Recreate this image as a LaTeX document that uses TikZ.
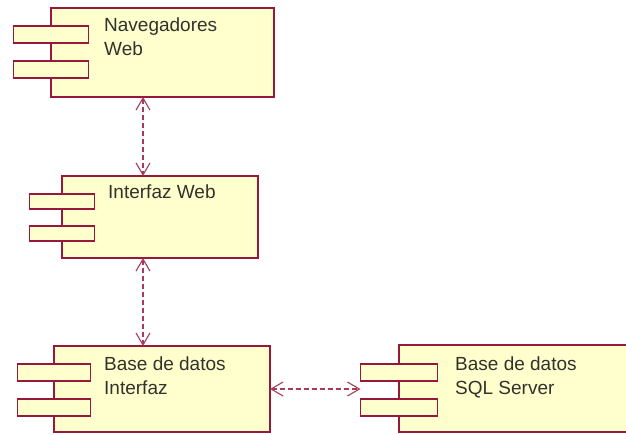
\documentclass[tikz,border=0pt]{standalone}
\usepackage{fontspec}
\setmainfont{Liberation Sans}
\usepackage{xcolor}
\usepackage{tikz}
\usetikzlibrary{arrows.meta, positioning, calc}
\definecolor{umlred}{RGB}{150,25,60}
\definecolor{umlfill}{RGB}{255,255,206}
\definecolor{umltext}{RGB}{50,50,45}

\begin{document}
\begin{tikzpicture}[
  x=1pt, y=-1pt,
  comp/.style={draw=umlred, fill=umlfill, line width=1.5pt, inner sep=0pt, outer sep=0pt},
  tab/.style={draw=umlred, fill=umlfill, line width=1.5pt, inner sep=0pt, outer sep=0pt,
    minimum width=75pt, minimum height=17pt},
  lbl/.style={inner sep=0pt, align=left, text=umltext, font=\fontsize{19}{24}\selectfont},
  dep/.style={umlred!85, line width=1.1pt, dash pattern=on 5pt off 3pt,
    {Straight Barb[length=12pt,width=14pt]}-{Straight Barb[length=12pt,width=14pt]}}
]
  \clip (0,0) rectangle (626,434);
  \fill[white] (0,0) rectangle (626,434);

  \node[comp, minimum width=223pt, minimum height=89pt] (nav) at (162.5,52.5) {};
  \node[comp, minimum width=196pt, minimum height=82pt] (iweb) at (160,217) {};
  \node[comp, minimum width=216pt, minimum height=86pt] (bdi) at (162,389) {};
  \node[comp, minimum width=240pt, minimum height=87pt] (sql) at (519,388.5) {};

  \node[tab, below=18pt of nav.north west] (nav-t1) {};
  \node[tab, below=18pt of nav-t1] (nav-t2) {};
  \node[tab, minimum width=65pt, minimum height=15pt, below=18pt of iweb.north west] (iweb-t1) {};
  \node[tab, minimum width=65pt, minimum height=15pt, below=17pt of iweb-t1] (iweb-t2) {};
  \node[tab, minimum width=73pt, below=18pt of bdi.north west] (bdi-t1) {};
  \node[tab, minimum width=73pt, below=18pt of bdi-t1] (bdi-t2) {};
  \node[tab, minimum width=77pt, below=19pt of sql.north west] (sql-t1) {};
  \node[tab, minimum width=77pt, below=18pt of sql-t1] (sql-t2) {};

  \node[lbl, below right=10pt and 53pt of nav.north west] (nav-l) {Navegadores\\Web};
  \node[lbl, below right=9pt and 46pt of iweb.north west] (iweb-l) {Interfaz Web};
  \node[lbl, below right=11pt and 50pt of bdi.north west] (bdi-l) {Base de datos\\Interfaz};
  \node[lbl, below right=12pt and 56pt of sql.north west] (sql-l) {Base de datos\\SQL Server};

  \draw[dep] ([xshift=-19.5pt]nav.south) -- ([xshift=-17pt]iweb.north);
  \draw[dep] ([xshift=-17pt]iweb.south) -- ([xshift=-19pt]bdi.north);
  \draw[dep] (bdi.east) -- (bdi.east -| sql-t1.west);
\end{tikzpicture}
\end{document}
